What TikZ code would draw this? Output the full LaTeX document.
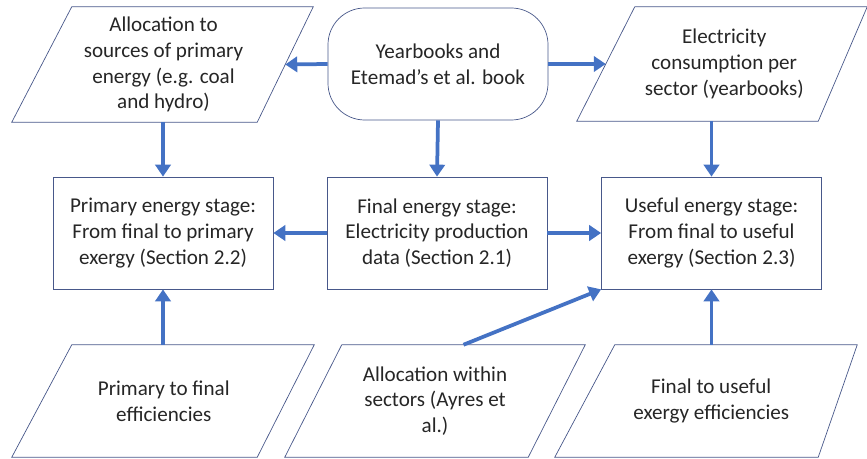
\documentclass[tikz,border=0pt]{standalone}
\usepackage{fontspec}
\setmainfont{Carlito}
\usepackage{xcolor}
\usepackage{tikz}
\usetikzlibrary{arrows.meta}
\definecolor{flowblue}{RGB}{68,114,196}
\definecolor{edgeblue}{RGB}{72,88,138}
\newcommand{\slantbox}[3]{\draw[edgeblue, line width=0.6pt] ([xshift=#2]#1.north west) -- ([xshift=#3]#1.north east)
    -- ([xshift=-#3]#1.south east) -- ([xshift=-#2]#1.south west) -- cycle;}

\begin{document}
\begin{tikzpicture}[x=0.03cm, y=-0.03cm,
                every node/.style={font=\fontsize{18}{22}\selectfont, text=black!85, align=center},
                stage/.style={draw=edgeblue, line width=0.6pt, minimum width=6.6cm, minimum height=3.36cm},
                source/.style={stage, rounded corners=1.1cm},
                data/.style={inner sep=0pt},
                flow/.style={draw=flowblue, line width=3.2pt, -{Triangle[length=3.6mm, width=4.6mm]}}]
                \useasboundingbox (0,0) rectangle (867,459);

                \node[source] (src) at (438,64) {Yearbooks and\\Etemad’s et al. book};
                \node[data, minimum width=7.29cm, minimum height=3.45cm] (alloc) at (163.5,64.5)
                    {Allocation to\\sources of primary\\energy (e.g. coal\\and hydro)};
                \node[data, minimum width=7.095cm, minimum height=3.42cm] (cons) at (724.25,64)
                    {Electricity\\consumption per\\sector (yearbooks)};
                \slantbox{alloc}{0.9cm}{0.84cm}
                \slantbox{cons}{0.87cm}{0.735cm}

                \node[stage] (prim) at (163,233) {Primary energy stage:\\From final to primary\\exergy (Section 2.2)};
                \node[stage] (fin) at (437,233) {Final energy stage:\\Electricity production\\data (Section 2.1)};
                \node[stage] (use) at (711.5,233) {Useful energy stage:\\From final to useful\\exergy (Section 2.3)};

                \node[data, minimum width=7.305cm, minimum height=3.36cm] (pte) at (163.75,401)
                    {Primary to final\\efficiencies};
                \node[data, minimum width=7.29cm, minimum height=3.36cm] (within) at (435,401)
                    {Allocation within\\sectors (Ayres et\\al.)};
                \node[data, minimum width=7.575cm, minimum height=3.36cm] (fue) at (711.25,401)
                    {Final to useful\\exergy efficiencies};
                \slantbox{pte}{0.9cm}{0.855cm}
                \slantbox{within}{0.855cm}{0.855cm}
                \slantbox{fue}{0.9cm}{0.585cm}

                \draw[flow] (src.west) -- (alloc.east);
                \draw[flow] (src.east) -- (cons.west);
                \draw[flow] (src.south) -- (fin.north);
                \draw[flow] (alloc.south -| prim.north) -- (prim.north);
                \draw[flow] (cons.south -| use.north) -- (use.north);
                \draw[flow] (fin.west) -- (prim.east);
                \draw[flow] (fin.east) -- (use.west);
                \draw[flow] (pte.north -| prim.south) -- (prim.south);
                \draw[flow] (fue.north -| use.south) -- (use.south);
                \draw[flow] ([xshift=0.855cm]within.north) -- (use.south west);
            \end{tikzpicture}
\end{document}
